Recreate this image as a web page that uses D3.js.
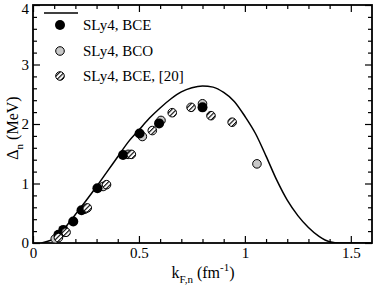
<!DOCTYPE html>
<html><head><meta charset="utf-8">
<script src="https://cdn.jsdelivr.net/npm/d3@7"></script>
<style>body{margin:0;background:#fff}svg{display:block}svg text{font-family:"Liberation Serif","DejaVu Serif",serif !important;fill:#000}</style>
</head><body><svg id="c" width="374" height="290"></svg>
<script>
// Theory curve (SLy4, BCE)
const curveK = [0.04,0.07,0.1,0.12,0.15,0.2,0.25,0.3,0.35,0.4,0.45,0.5,0.55,0.6,0.65,0.7,0.75,0.8,0.85,0.9,0.95,1.0,1.05,1.1,1.15,1.2,1.25,1.3,1.35,1.4,1.45,1.6];
const curveD = [0,0.03,0.07,0.12,0.25,0.48,0.71,0.95,1.2,1.45,1.7,1.9,2.1,2.27,2.42,2.54,2.61,2.64,2.62,2.53,2.38,2.13,1.84,1.46,1.06,0.72,0.46,0.26,0.11,0.02,0,0];
// SLy4, BCE (filled)
const bceK = [0.12,0.143,0.19,0.229,0.304,0.425,0.503,0.595,0.80];
const bceD = [0.14,0.22,0.36,0.55,0.92,1.48,1.84,2.01,2.28];
// SLy4, BCO (grey)
const bcoK = [0.105,0.15,0.245,0.331,0.449,0.516,0.604,0.80,1.057];
const bcoD = [0.07,0.18,0.57,0.95,1.49,1.79,2.06,2.34,1.33];
// SLy4, BCE, [20] (hatched)
const refK = [0.12,0.156,0.256,0.347,0.464,0.563,0.657,0.746,0.84,0.94];
const refD = [0.09,0.18,0.59,0.98,1.49,1.89,2.19,2.28,2.14,2.03];
const xMajor = [0,0.5,1,1.5];
const yMajor = [0,1,2,3,4];
const legendLabels = ["SLy4, BCE","SLy4, BCO","SLy4, BCE, [20]"];

const FONT = '"Liberation Serif","DejaVu Serif",serif';
const svg = d3.select("#c");
const L=33,R=372,T=5,B=243;
const x = d3.scaleLinear().domain([0,1.6]).range([L,R]);
const y = d3.scaleLinear().domain([0,4]).range([B,T]);

const defs = svg.append("defs");
const pat = defs.append("pattern").attr("id","hatch").attr("patternUnits","userSpaceOnUse")
  .attr("width",3.2).attr("height",3.2).attr("patternTransform","rotate(-45)");
pat.append("rect").attr("width",3.2).attr("height",3.2).attr("fill","#fff");
pat.append("line").attr("x1",0).attr("y1",0).attr("x2",3.2).attr("y2",0).attr("stroke","#000").attr("stroke-width",2.2);

const xMinor = d3.range(0,16).map(i=>i/10).filter(v=>!xMajor.some(m=>Math.abs(m-v)<1e-9));
const yMinor = d3.range(0,21).map(i=>i/5).filter(v=>!yMajor.some(m=>Math.abs(m-v)<1e-9));

function styleAxis(g){g.attr("font-family",FONT);g.select(".domain").remove();g.selectAll("line").attr("stroke","#000").attr("stroke-width",1.2);g.selectAll("text").attr("font-size",15).style("font-family",FONT);}

svg.append("g").attr("transform",`translate(0,${B})`).call(d3.axisBottom(x).tickValues(xMajor).tickFormat(d3.format("")).tickSize(-7).tickPadding(4)).call(styleAxis);
svg.append("g").attr("transform",`translate(0,${B})`).call(d3.axisBottom(x).tickValues(xMinor).tickFormat("").tickSize(-4)).call(styleAxis);
svg.append("g").attr("transform",`translate(0,${T})`).call(d3.axisTop(x).tickValues(xMajor).tickFormat("").tickSize(-7)).call(styleAxis);
svg.append("g").attr("transform",`translate(0,${T})`).call(d3.axisTop(x).tickValues(xMinor).tickFormat("").tickSize(-4)).call(styleAxis);
const yAx = svg.append("g").attr("transform",`translate(${L},0)`).call(d3.axisLeft(y).tickValues(yMajor).tickFormat(d3.format("")).tickSize(-7).tickPadding(4)).call(styleAxis);
yAx.selectAll(".tick text").filter(d=>d===4).attr("dy","0.55em");
svg.append("g").attr("transform",`translate(${L},0)`).call(d3.axisLeft(y).tickValues(yMinor).tickFormat("").tickSize(-4)).call(styleAxis);
svg.append("g").attr("transform",`translate(${R},0)`).call(d3.axisRight(y).tickValues(yMajor).tickFormat("").tickSize(-7)).call(styleAxis);
svg.append("g").attr("transform",`translate(${R},0)`).call(d3.axisRight(y).tickValues(yMinor).tickFormat("").tickSize(-4)).call(styleAxis);

svg.append("rect").attr("x",L).attr("y",T).attr("width",R-L).attr("height",B-T).attr("fill","none").attr("stroke","#000").attr("stroke-width",1.8);

const clip = defs.append("clipPath").attr("id","pc");
clip.append("rect").attr("x",L).attr("y",T).attr("width",R-L).attr("height",B-T);

const line = d3.line().x((d,i)=>x(curveK[i])).y((d,i)=>y(curveD[i])).curve(d3.curveMonotoneX);
svg.append("path").attr("d",line(curveD)).attr("fill","none").attr("stroke","#000").attr("stroke-width",1.5).attr("clip-path","url(#pc)");

const pts = svg.append("g");
pts.selectAll(".bco").data(bcoK).enter().append("circle").attr("cx",d=>x(d)).attr("cy",(d,i)=>y(bcoD[i])).attr("r",4.3).attr("fill","#c8c8c8").attr("stroke","#000").attr("stroke-width",1);
pts.selectAll(".bce").data(bceK).enter().append("circle").attr("cx",d=>x(d)).attr("cy",(d,i)=>y(bceD[i])).attr("r",5).attr("fill","#000");
pts.selectAll(".ref").data(refK).enter().append("circle").attr("cx",d=>x(d)).attr("cy",(d,i)=>y(refD[i])).attr("r",4.3).attr("fill","url(#hatch)").attr("stroke","#000").attr("stroke-width",1);

// legend
const lg = svg.append("g");
lg.append("line").attr("x1",44).attr("x2",78).attr("y1",13).attr("y2",13).attr("stroke","#000").attr("stroke-width",1.5);
const rows=[25,51,76];
lg.append("circle").attr("cx",60).attr("cy",rows[0]).attr("r",5).attr("fill","#000");
lg.append("circle").attr("cx",60).attr("cy",rows[1]).attr("r",4.3).attr("fill","#c8c8c8").attr("stroke","#000");
lg.append("circle").attr("cx",60).attr("cy",rows[2]).attr("r",4.3).attr("fill","url(#hatch)").attr("stroke","#000");
legendLabels.forEach((t,i)=>lg.append("text").attr("x",83).attr("y",rows[i]+5).attr("font-size",15).style("font-family",FONT).text(t));

// axis labels
const yl = svg.append("text").attr("transform","translate(18,128) rotate(-90)").attr("text-anchor","middle").attr("font-size",16).style("font-family",FONT);
yl.append("tspan").text("Δ");
yl.append("tspan").attr("font-size",11).attr("dy",5).text("n");
yl.append("tspan").attr("dy",-5).text(" (MeV)");
const xl = svg.append("text").attr("x",203).attr("y",278).attr("text-anchor","middle").attr("font-size",16).style("font-family",FONT);
xl.append("tspan").text("k");
xl.append("tspan").attr("font-size",11).attr("dy",5).text("F,n");
xl.append("tspan").attr("dy",-5).text(" (fm");
xl.append("tspan").attr("font-size",11).attr("dy",-7).text("-1");
xl.append("tspan").attr("dy",7).text(")");
</script></body></html>
